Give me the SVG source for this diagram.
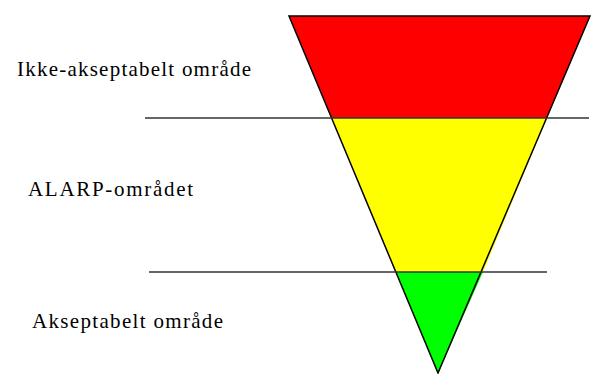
<svg xmlns="http://www.w3.org/2000/svg" width="592" height="374" viewBox="0 0 592 374">
<style>
.lbl{font-family:"Liberation Serif","Times New Roman",serif;font-size:21px;fill:#000}
.zone{stroke:none}
.edge{fill:none;stroke:#000;stroke-width:1.5}
.hline{stroke:#333;stroke-width:1.5}
</style>
<rect width="592" height="374" fill="#fff"/>
<g id="red-zone"><polygon class="zone" fill="#ff0000" points="289,16 590,16 547,118 332,118"/></g>
<g id="yellow-zone"><polygon class="zone" fill="#ffff00" points="332,118 547,118 483,272 396,272"/></g>
<g id="green-zone"><polygon class="zone" fill="#00ff00" points="396,272 483,272 438,373"/></g>
<g id="connectors">
<polygon class="edge" points="289,16 590,16 438,373"/>
<line class="hline" x1="145" y1="118" x2="589" y2="118"/>
<line class="hline" x1="149" y1="272" x2="547" y2="272"/>
</g>
<g id="label-ikke"><text class="lbl" x="17" y="76" textLength="234" lengthAdjust="spacing">Ikke-akseptabelt område</text></g>
<g id="label-alarp"><text class="lbl" x="28" y="196" textLength="165" lengthAdjust="spacing">ALARP-området</text></g>
<g id="label-aksept"><text class="lbl" x="32" y="328" textLength="191" lengthAdjust="spacing">Akseptabelt område</text></g>
</svg>
